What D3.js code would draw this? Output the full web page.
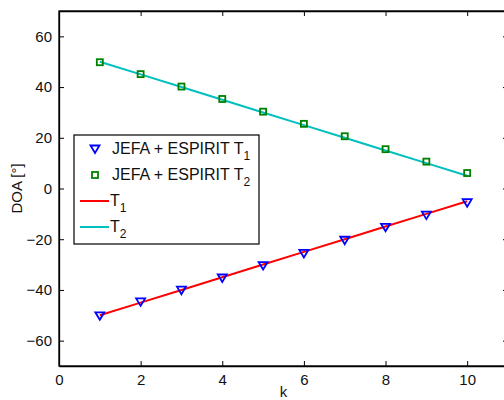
<!DOCTYPE html>
<html>
<head>
<meta charset="utf-8">
<script src="https://d3js.org/d3.v7.min.js"></script>
<style>
body { margin: 0; background: #fff; font-family: 'Liberation Sans', Arial, sans-serif; }
svg { display: block; }
.tick text { font-size: 15px; fill: #111; font-family: 'Liberation Sans', Arial, sans-serif; }
</style>
</head>
<body>
<div id="chart"></div>
<script>
var k = [1, 2, 3, 4, 5, 6, 7, 8, 9, 10];
var estT1 = [-50.2, -44.7, -40.1, -35.3, -30.4, -25.6, -20.4, -15.3, -10.5, -5.6];
var estT2 = [49.8, 45.1, 40.2, 35.3, 30.3, 25.5, 20.6, 15.5, 10.6, 6.1];
var trueT1 = [-50, -45, -40, -35, -30, -25, -20, -15, -10, -5];
var trueT2 = [50, 45, 40, 35, 30, 25, 20, 15, 10, 5];
var xTicks = [0, 2, 4, 6, 8, 10];
var yTicks = [-60, -40, -20, 0, 20, 40, 60];

var W = 504, H = 400;
var pLeft = 59, pTop = 11, pRight = 508, pBottom = 366;

var svg = d3.select("#chart").append("svg")
  .attr("width", W).attr("height", H);

var x = d3.scaleLinear().domain([0, 11]).range([pLeft, pRight]);
var y = d3.scaleLinear().domain([-70, 70]).range([pBottom, pTop]);

// axes with inward ticks, mirrored on top/right
svg.append("g").attr("transform", "translate(0," + pBottom + ")")
  .call(d3.axisBottom(x).tickValues(xTicks).tickSize(-5).tickPadding(8).tickSizeOuter(0));
svg.append("g").attr("transform", "translate(0," + pTop + ")")
  .call(d3.axisTop(x).tickValues(xTicks).tickSize(-5).tickFormat("").tickSizeOuter(0));
svg.append("g").attr("transform", "translate(" + pLeft + ",0)")
  .call(d3.axisLeft(y).tickValues(yTicks).tickSize(-5).tickPadding(7).tickSizeOuter(0)
    .tickFormat(function (d) { return d < 0 ? "\u2212" + Math.abs(d) : d; }));
svg.append("g").attr("transform", "translate(" + pRight + ",0)")
  .call(d3.axisRight(y).tickValues(yTicks).tickSize(-5).tickFormat("").tickSizeOuter(0));
svg.selectAll(".domain").attr("stroke", "#000").attr("stroke-width", 1.3);
svg.selectAll(".tick line").attr("stroke", "#000");

svg.append("rect").attr("x", pLeft).attr("y", pTop)
  .attr("width", pRight - pLeft).attr("height", pBottom - pTop)
  .attr("fill", "none").attr("stroke", "#000").attr("stroke-width", 1.3);

var line = d3.line().x(function (d, i) { return x(k[i]); }).y(function (d) { return y(d); });

svg.append("path").datum(trueT1).attr("d", line)
  .attr("fill", "none").attr("stroke", "#ff0000").attr("stroke-width", 2);
svg.append("path").datum(trueT2).attr("d", line)
  .attr("fill", "none").attr("stroke", "#00bfbf").attr("stroke-width", 2);

var tri = "M-4.5,-3.5 L4.5,-3.5 L0,4 Z";
svg.selectAll("path.t1").data(estT1).enter().append("path").attr("class", "t1")
  .attr("d", tri)
  .attr("transform", function (d, i) { return "translate(" + x(k[i]) + "," + y(d) + ")"; })
  .attr("fill", "none").attr("stroke", "#0000ff").attr("stroke-width", 1.8);

svg.selectAll("rect.t2").data(estT2).enter().append("rect").attr("class", "t2")
  .attr("x", function (d, i) { return x(k[i]) - 3; })
  .attr("y", function (d) { return y(d) - 3; })
  .attr("width", 6).attr("height", 6)
  .attr("fill", "none").attr("stroke", "#008000").attr("stroke-width", 1.8);

// labels
svg.append("text").attr("x", x(5.5)).attr("y", 397).attr("text-anchor", "middle")
  .attr("font-size", 15).attr("fill", "#111").text("k");
svg.append("text").attr("transform", "translate(22," + y(0) + ") rotate(-90)")
  .attr("text-anchor", "middle").attr("font-size", 15).attr("fill", "#111").text("DOA [\u00b0]");

// legend
var lg = svg.append("g");
lg.append("rect").attr("x", 74).attr("y", 135).attr("width", 185).attr("height", 109)
  .attr("fill", "#fff").attr("stroke", "#000").attr("stroke-width", 1.2);

var rows = [
  { label: "JEFA + ESPIRIT T", sub: "1", type: "tri", y: 149 },
  { label: "JEFA + ESPIRIT T", sub: "2", type: "sq", y: 175 },
  { label: "T", sub: "1", type: "red", y: 201 },
  { label: "T", sub: "2", type: "cyan", y: 227 }
];
rows.forEach(function (r) {
  if (r.type === "tri") {
    lg.append("path").attr("d", tri).attr("transform", "translate(95," + r.y + ")")
      .attr("fill", "none").attr("stroke", "#0000ff").attr("stroke-width", 1.8);
  } else if (r.type === "sq") {
    lg.append("rect").attr("x", 92).attr("y", r.y - 3).attr("width", 6).attr("height", 6)
      .attr("fill", "none").attr("stroke", "#008000").attr("stroke-width", 1.8);
  } else {
    lg.append("line").attr("x1", 80).attr("x2", 109).attr("y1", r.y).attr("y2", r.y)
      .attr("stroke", r.type === "red" ? "#ff0000" : "#00bfbf").attr("stroke-width", 2);
  }
  var t = lg.append("text").attr("x", r.type === "tri" || r.type === "sq" ? 112 : 110)
    .attr("y", r.y + 5).attr("font-size", 16).attr("fill", "#111");
  t.append("tspan").text(r.label);
  t.append("tspan").attr("dy", 6).attr("font-size", 12).text(r.sub);
});
</script>
</body>
</html>
